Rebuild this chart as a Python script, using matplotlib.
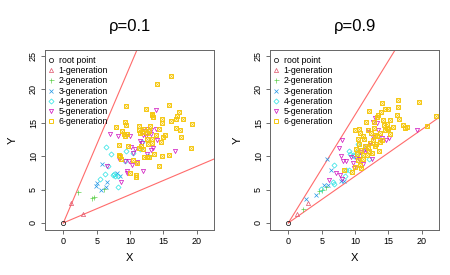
import matplotlib
matplotlib.use("Agg")
import matplotlib.pyplot as plt

plt.rcParams['font.family'] = ['Liberation Sans', 'DejaVu Sans']

labels = ['root point', '1-generation', '2-generation', '3-generation',
          '4-generation', '5-generation', '6-generation']
colors = ['black', '#DF536B', '#61D04F', '#2297E6', '#28E2E5', '#CD0BBC', '#F5C710']
titles = ['\u03c1=0.1', '\u03c1=0.9']

# bounding lines through the root point
slopes_01 = [2.35, 0.424]
slopes_09 = [1.62, 0.70]

# rho = 0.1
r01_root = [(0, 0)]
r01_gen1 = [(1.15, 2.95), (3.0, 1.35)]
r01_gen2 = [(2.15, 4.6), (4.35, 3.8), (4.55, 3.95), (6.05, 5.1)]
r01_gen3 = [(5.75, 8.8), (6.6, 6.15), (5.1, 6.05), (4.95, 5.6), (5.65, 4.95),
            (6.35, 5.35), (8.0, 7.45), (8.5, 7.05)]
r01_gen4 = [(6.4, 11.4), (7.15, 10.3), (6.75, 8.55), (6.25, 7.3), (5.5, 6.55),
            (7.65, 7.35), (7.5, 7.2), (7.8, 7.0), (8.25, 7.1), (8.15, 5.45),
            (9.25, 9.3), (9.35, 10.7), (11.75, 12.1), (11.5, 11.0), (12.75, 10.0),
            (10.4, 10.5)]
r01_gen5 = [(7.05, 13.3), (8.25, 12.95), (10.05, 13.0), (13.85, 16.85), (8.3, 9.8),
            (8.4, 9.6), (9.3, 9.2), (9.8, 9.25), (9.5, 7.8), (9.6, 7.55),
            (10.25, 8.7), (8.6, 6.1), (10.15, 11.35), (10.75, 11.0), (11.1, 9.15),
            (11.9, 7.8), (12.2, 13.7), (12.55, 14.05), (13.1, 13.95), (13.85, 14.0),
            (13.5, 11.2), (14.1, 12.45), (12.4, 12.95), (13.15, 10.85), (16.7, 10.75),
            (6.5, 8.55), (10.5, 10.4), (11.8, 11.9), (12.0, 13.2), (13.2, 13.3),
            (11.5, 12.3), (12.6, 10.3)]
r01_gen6 = [(16.2, 22.05), (14.0, 20.8), (9.35, 17.55), (12.35, 17.05), (15.8, 17.65),
            (17.35, 16.55), (17.1, 16.05), (16.9, 15.55), (17.9, 15.5), (19.25, 14.8),
            (13.25, 16.1), (13.5, 15.85), (13.3, 16.3), (14.75, 15.55), (14.75, 15.0),
            (16.15, 15.25), (9.25, 15.15), (9.4, 14.7), (7.9, 14.3), (8.8, 13.8),
            (9.15, 13.35), (8.35, 11.65), (8.35, 10.15), (9.75, 11.5), (11.35, 14.5),
            (11.35, 13.9), (11.5, 13.4), (12.05, 14.1), (12.8, 13.7), (13.0, 14.55),
            (14.3, 14.0), (13.9, 13.2), (12.5, 12.5), (13.25, 12.5), (14.65, 12.15),
            (15.25, 13.2), (12.65, 11.85), (13.3, 12.0), (12.0, 11.0), (11.35, 11.15),
            (11.7, 11.5), (12.5, 9.85), (12.1, 9.9), (13.55, 10.35), (14.75, 10.05),
            (15.9, 10.2), (16.9, 14.2), (17.5, 13.85), (17.7, 12.8), (19.15, 11.2),
            (10.5, 9.45), (10.85, 7.15), (10.95, 6.9), (10.05, 7.55), (11.0, 9.0),
            (14.35, 8.6), (12.85, 9.8), (9.5, 13.25), (9.3, 12.95), (8.5, 9.95),
            (8.6, 9.5), (11.8, 13.6), (12.6, 13.5), (14.9, 12.8)]

# rho = 0.9
r09_root = [(0, 0)]
r09_gen1 = [(1.25, 1.3), (3.0, 3.0)]
r09_gen2 = [(2.15, 2.05), (4.6, 4.8), (5.0, 4.95), (5.6, 5.45)]
r09_gen3 = [(2.65, 3.65), (4.1, 4.15), (5.4, 5.65), (5.9, 5.75), (6.4, 7.95),
            (5.85, 9.55), (7.9, 6.35), (8.3, 6.25)]
r09_gen4 = [(4.9, 5.1), (6.65, 6.2), (6.85, 5.85), (6.9, 8.7), (8.5, 7.05),
            (9.15, 7.95), (9.65, 10.2), (9.9, 10.0), (9.15, 10.8), (9.2, 10.3),
            (10.4, 11.8), (10.75, 10.0), (12.1, 9.6), (10.25, 10.55), (11.45, 11.2),
            (8.6, 7.9)]
r09_gen5 = [(8.1, 12.45), (7.65, 11.2), (7.95, 9.95), (8.25, 9.2), (7.7, 7.25),
            (7.15, 7.45), (6.15, 6.45), (8.0, 6.55), (9.35, 9.85), (10.15, 9.75),
            (10.6, 9.55), (11.15, 8.8), (11.4, 10.85), (11.65, 11.45), (11.9, 13.85),
            (13.0, 15.7), (12.65, 15.1), (13.35, 14.95), (13.4, 13.85), (13.8, 12.35),
            (12.5, 9.6), (12.75, 12.85), (14.0, 12.65), (14.6, 12.4), (15.1, 12.65),
            (19.2, 13.95), (9.8, 8.2), (9.75, 8.9), (8.6, 9.3), (10.8, 10.6),
            (12.2, 12.0), (11.7, 10.9)]
r09_gen6 = [(16.5, 18.35), (14.0, 17.9), (16.5, 17.3), (14.55, 17.1), (14.9, 17.05),
            (19.6, 18.15), (12.1, 16.75), (13.5, 16.15), (13.3, 15.8), (16.3, 16.2),
            (16.55, 15.55), (14.25, 15.45), (11.6, 15.05), (12.85, 15.15), (14.8, 14.8),
            (14.85, 14.15), (15.65, 14.35), (17.75, 14.35), (17.5, 14.15), (20.8, 14.55),
            (22.1, 16.05), (10.0, 13.95), (10.65, 14.05), (10.7, 13.45), (12.0, 13.95),
            (12.35, 13.4), (13.0, 13.2), (13.75, 13.45), (13.35, 13.05), (14.5, 13.85),
            (15.25, 13.25), (11.3, 12.55), (12.75, 12.45), (14.0, 12.45), (13.1, 11.8),
            (13.7, 12.1), (10.6, 11.8), (10.15, 11.1), (10.9, 10.95), (11.5, 11.45),
            (12.1, 10.7), (11.25, 10.2), (11.75, 10.2), (12.5, 10.45), (13.6, 10.7),
            (13.0, 11.55), (10.25, 10.3), (11.25, 9.6), (10.5, 9.45), (10.75, 8.7),
            (10.9, 8.3), (10.05, 8.35), (8.35, 7.95), (9.5, 7.7), (11.9, 11.2),
            (12.9, 14.2), (15.0, 14.0), (14.3, 14.6), (11.2, 13.0), (12.3, 12.0),
            (15.3, 15.4), (13.9, 16.6), (10.4, 12.6), (17.2, 14.6)]

panels = [
    ([r01_root, r01_gen1, r01_gen2, r01_gen3, r01_gen4, r01_gen5, r01_gen6], slopes_01),
    ([r09_root, r09_gen1, r09_gen2, r09_gen3, r09_gen4, r09_gen5, r09_gen6], slopes_09),
]

XLIM = (-2.75, 22.6)
YLIM = (-1.05, 25.9)


def draw_points(ax, pts, i):
    xs = [p[0] for p in pts]
    ys = [p[1] for p in pts]
    c = colors[i]
    kw = dict(linestyle='none', markersize=3.0, markeredgewidth=0.5,
              markerfacecolor='none', markeredgecolor=c)
    if i == 0:
        return ax.plot(xs, ys, marker='o', **kw)[0]
    if i == 1:
        return ax.plot(xs, ys, marker='^', **kw)[0]
    if i == 2:
        return ax.plot(xs, ys, marker='+', **dict(kw, markersize=3.6))[0]
    if i == 3:
        return ax.plot(xs, ys, marker='x', **dict(kw, markersize=2.8))[0]
    if i == 4:
        return ax.plot(xs, ys, marker='D', **dict(kw, markersize=2.6))[0]
    if i == 5:
        return ax.plot(xs, ys, marker='v', **kw)[0]
    # pch 7: square with a cross
    ax.plot(xs, ys, marker='x', **dict(kw, markersize=2.3))
    return ax.plot(xs, ys, marker='s', **dict(kw, markersize=2.5, markeredgewidth=0.7))[0]


fig = plt.figure(figsize=(4.5, 2.75), dpi=100)
lefts = [0.100, 0.600]
for k, (groups, slopes) in enumerate(panels):
    ax = fig.add_axes([lefts[k], 0.164, 0.376, 0.654])
    handles = []
    for i, pts in enumerate(groups):
        handles.append(draw_points(ax, pts, i))
    for s in slopes:
        xe = XLIM[1] + 5
        ax.plot([0, xe], [0, s * xe], color='#FF6B6B', lw=0.8, zorder=1)
    ax.set_xlim(XLIM)
    ax.set_ylim(YLIM)
    ax.set_xticks([0, 5, 10, 15, 20])
    ax.set_yticks([0, 5, 10, 15, 20, 25])
    ax.tick_params(labelsize=6.5, length=3, width=0.6, color='#555555', pad=2)
    for lab in ax.get_yticklabels():
        lab.set_rotation(90)
        lab.set_va('center')
    for sp in ax.spines.values():
        sp.set_color('#666666')
        sp.set_linewidth(0.7)
    ax.set_xlabel('X', fontsize=8, labelpad=5)
    ax.set_ylabel('Y', fontsize=8, labelpad=8)
    ax.set_title(titles[k], fontsize=12, pad=14)
    ax.legend(handles, labels, loc='upper left', bbox_to_anchor=(-0.02, 1.0),
              frameon=False, fontsize=6.3,
              handlelength=0.8, handletextpad=0.45, labelspacing=0.13,
              borderaxespad=0.5, borderpad=0.2)

fig.savefig('out.png', dpi=100)
